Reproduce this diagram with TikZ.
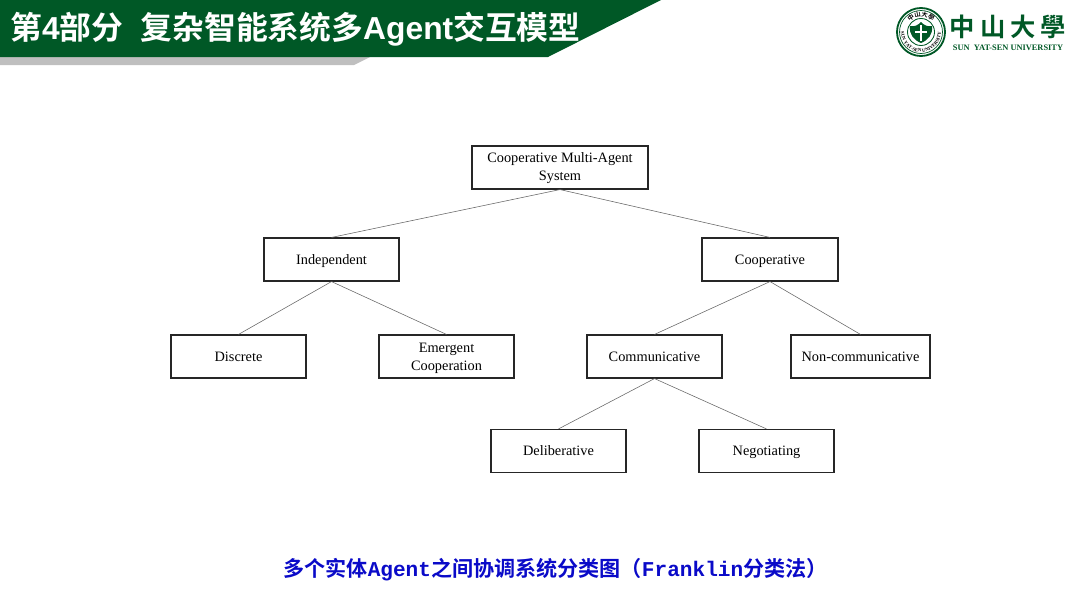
\documentclass[tikz,border=0pt]{standalone}
\usepackage{fontspec}
\setmainfont{Liberation Serif}
\newfontfamily\cjkbold[BoldFont=Noto Sans CJK SC Bold]{Noto Sans CJK SC}
\newfontfamily\cjktrad{Noto Sans CJK TC Bold}
\newfontfamily\capmono{Liberation Mono Bold}
\newfontfamily\heros{Liberation Sans Bold}
\usetikzlibrary{positioning,decorations.text}
\definecolor{sysugreen}{HTML}{005826}
\definecolor{capblue}{HTML}{0A0AC8}
\newcommand{\boxstrut}{\rule[-3.1pt]{0pt}{12.8pt}}
\tikzset{
    classbox/.style={draw=black!85, line width=0.8pt, minimum height=1.075cm, inner sep=0pt, align=center,
        font=\fontsize{10.2}{12.8}\selectfont},
    treeline/.style={draw=black!60, line width=0.4pt}
}
\begin{document}
\begin{tikzpicture}[x=0.025cm, y=-0.025cm]
\useasboundingbox (0,0) rectangle (1080,605);

% Header band
\fill[black!25] (0,57) -- (370,57) -- (354,65) -- (0,65) -- cycle;
\fill[sysugreen] (0,0) -- (661,0) -- (548,57) -- (0,57) -- cycle;
\node[anchor=west, inner sep=0pt, text=white, font=\fontsize{22.6}{24}\selectfont] (title) at (10,29)
    {{\cjkbold\bfseries 第}{\heros 4}{\cjkbold\bfseries 部分}\hspace{0.55em}{\cjkbold\bfseries 复杂智能系统多}{\heros Agent}{\cjkbold\bfseries 交互模型}};

% Seal
\draw[sysugreen, line width=1.3pt] (921,32) circle (24);
\draw[sysugreen, line width=0.5pt] (921,32) circle (21.5);
\draw[sysugreen, line width=0.6pt] (921,32) circle (13.5);
\fill[sysugreen] (910,26) .. controls (915,27) and (918,25) .. (921,22) .. controls (924,25) and (927,27) .. (932,26)
    .. controls (933,35) and (928,40) .. (921,43) .. controls (914,40) and (909,35) .. (910,26) -- cycle;
\fill[white] (920,25) rectangle (922,41);
\fill[white] (915,31) rectangle (927,33);
\path[decorate, decoration={text along path, text align=center,
    text={|\fontsize{3.4}{4}\bfseries\selectfont|SUN YAT-SEN UNIVERSITY}}]
    (902.87,23.55) arc[start angle=205, end angle=-25, radius=20];
\path[decorate, decoration={text along path, text align=center,
    text={|\cjktrad\fontsize{4.5}{5}\selectfont|中山大學}}]
    (905.5,32) arc[start angle=180, end angle=360, radius=15.5];

% University name
\node[inner sep=0pt, text=sysugreen, font=\cjktrad\fontsize{18}{20}\selectfont] (sysuname) at (1008,27) {中\hspace{0.2em}山\hspace{0.2em}大\hspace{0.2em}學};
\node[inner sep=0pt, text=sysugreen, font=\fontsize{5.95}{7}\bfseries\selectfont] (sysueng) at (1008,48) {SUN\hspace{0.5em}YAT-SEN UNIVERSITY};

% Class boxes
\foreach \name/\x/\y/\wid/\txt in {
    root/560/167.5/176/{\strut Cooperative Multi-Agent\\System\strut},
    indep/331.5/259.5/135/Independent\boxstrut,
    coop/770/259.5/136/Cooperative\boxstrut,
    discrete/238.5/356.5/135/Discrete\boxstrut,
    emergent/446.5/356.5/135/{\boxstrut Emergent\\Cooperation\boxstrut},
    comm/654.5/356.5/135/Communicative\boxstrut,
    noncomm/860.5/356.5/139/Non-communicative\boxstrut,
    delib/558.5/451/135/Deliberative\boxstrut,
    nego/766.5/451/135/Negotiating\boxstrut} {
    \node[classbox, minimum width=\wid*0.025cm] (\name) at (\x,\y) {\txt};
}

% Tree lines
\foreach \from/\to in {root/indep, root/coop, indep/discrete, indep/emergent,
    coop/comm, coop/noncomm, comm/delib, comm/nego} {
    \draw[treeline] (\from.south) -- (\to.north);
}

% Caption
\node[inner sep=0pt, text=capblue, font=\fontsize{15}{16}\selectfont] (caption) at (555.5,570)
    {{\cjkbold\bfseries 多个实体}{\capmono Agent}{\cjkbold\bfseries 之间协调系统分类图（}{\capmono Franklin}{\cjkbold\bfseries 分类法）}};
\end{tikzpicture}
\end{document}
